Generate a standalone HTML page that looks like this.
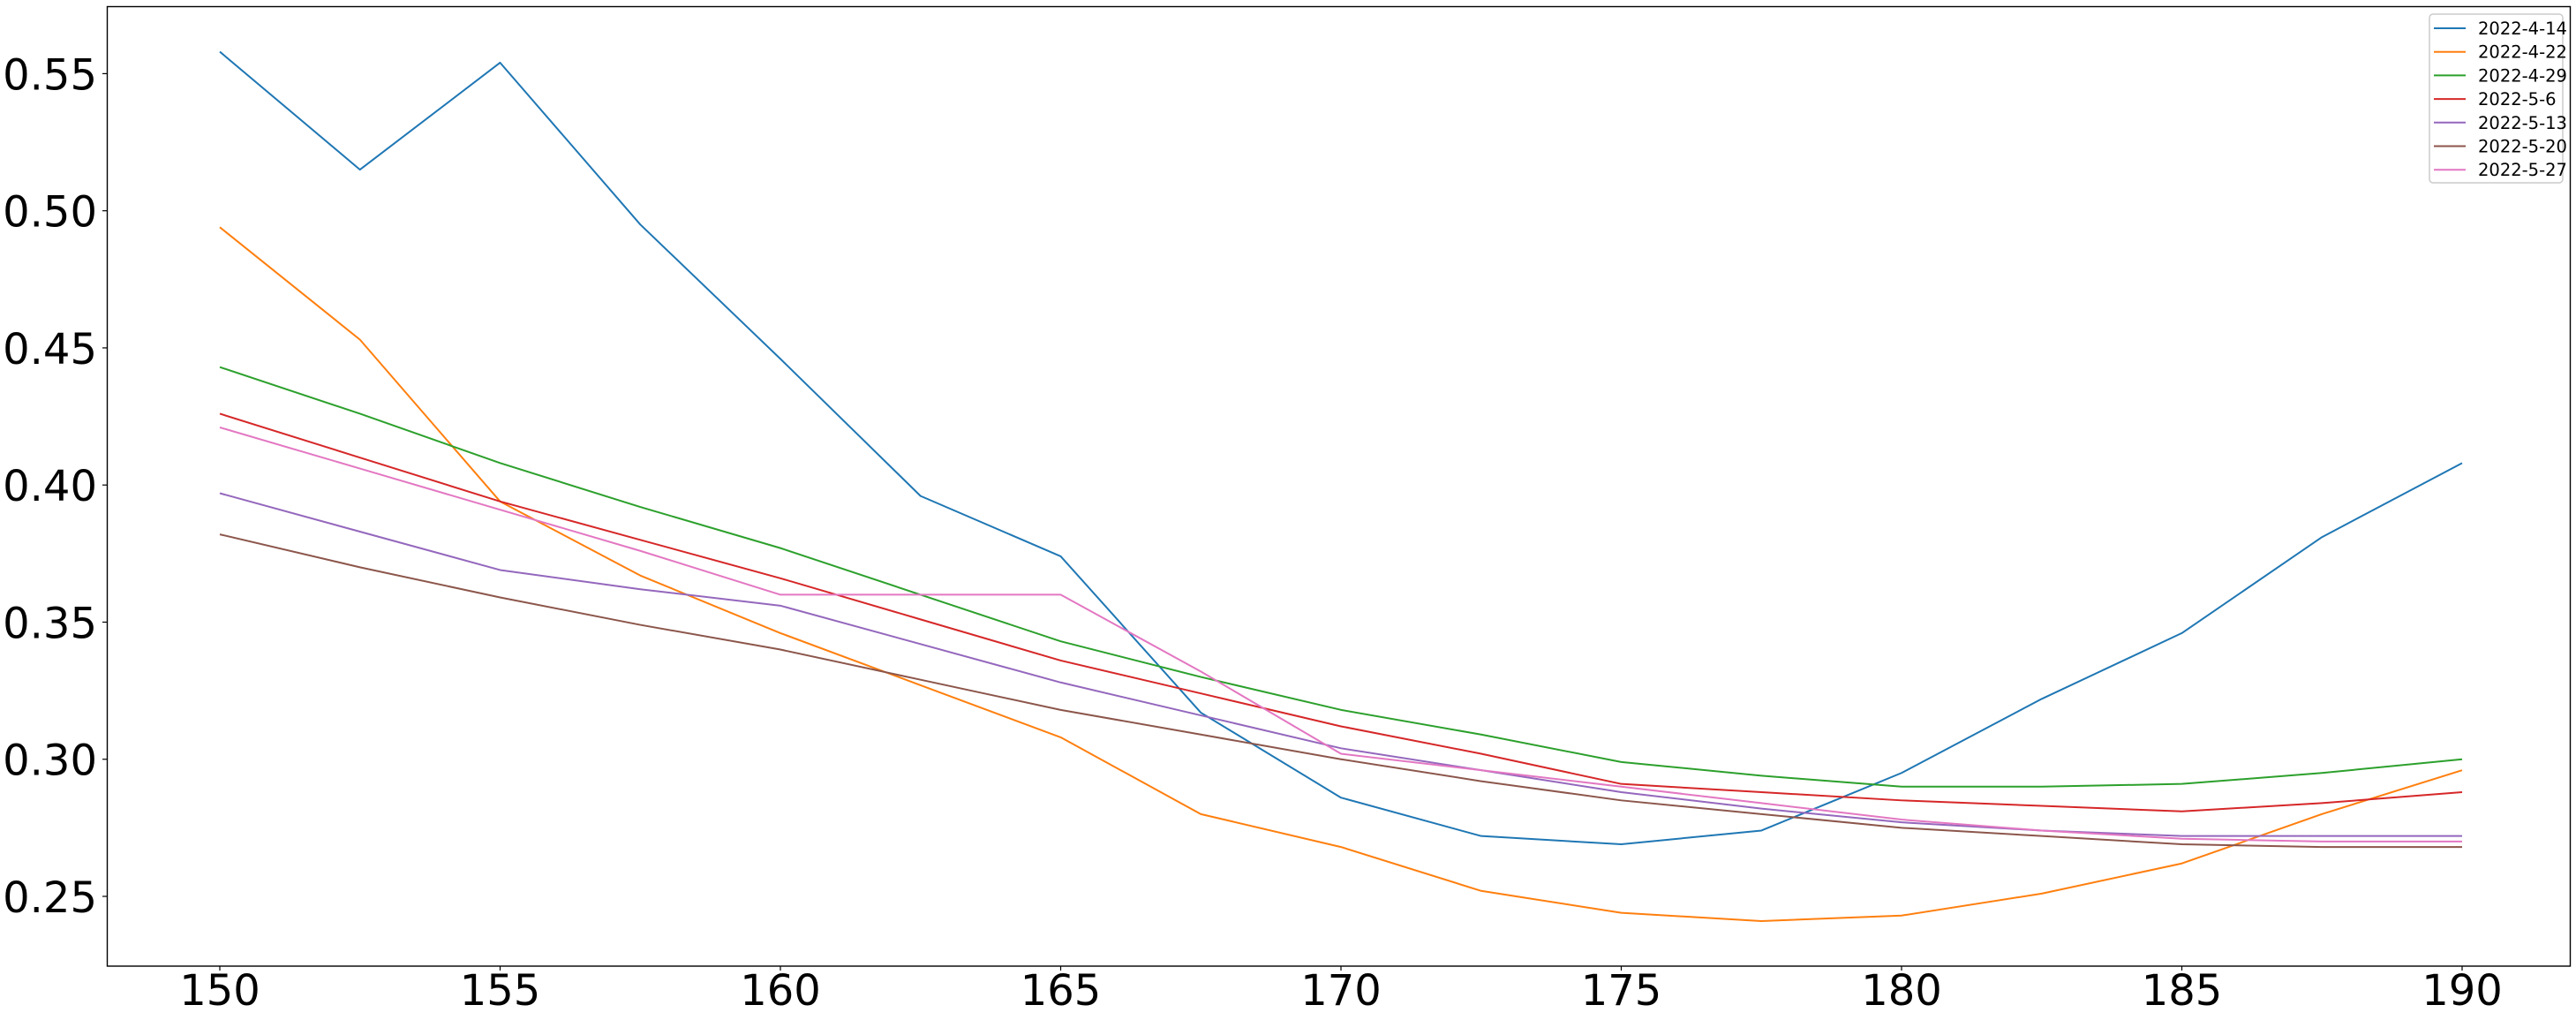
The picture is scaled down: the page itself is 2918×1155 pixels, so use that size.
<!DOCTYPE html>
<html><head><meta charset="utf-8"><style>
html,body{margin:0;padding:0;background:#fff;}
svg{display:block;font-family:"DejaVu Sans","Liberation Sans",sans-serif;}
</style></head><body>
<svg id="chart" width="2918" height="1155" viewBox="0 0 2918 1155" xmlns="http://www.w3.org/2000/svg">
<rect width="2918" height="1155" fill="#fff"/>
<g id="series"></g>
<rect x="121.5" y="7.5" width="2790" height="1086.5" fill="none" stroke="#000" stroke-width="1.4"/>
<g id="xticks"></g><g id="yticks"></g><g id="legend"></g>
</svg>
<script>
const xs=[150,152.5,155,157.5,160,162.5,165,167.5,170,172.5,175,177.5,180,182.5,185,187.5,190];
const seriesNames=["2022-4-14","2022-4-22","2022-4-29","2022-5-6","2022-5-13","2022-5-20","2022-5-27"];
const s1=[0.558,0.515,0.554,0.495,0.446,0.396,0.374,0.317,0.286,0.272,0.269,0.274,0.295,0.322,0.346,0.381,0.408];
const s2=[0.494,0.453,0.394,0.367,0.346,0.327,0.308,0.280,0.268,0.252,0.244,0.241,0.243,0.251,0.262,0.280,0.296];
const s3=[0.443,0.426,0.408,0.392,0.377,0.360,0.343,0.330,0.318,0.309,0.299,0.294,0.290,0.290,0.291,0.295,0.300];
const s4=[0.426,0.410,0.394,0.380,0.366,0.351,0.336,0.324,0.312,0.302,0.291,0.288,0.285,0.283,0.281,0.284,0.288];
const s5=[0.397,0.383,0.369,0.362,0.356,0.342,0.328,0.316,0.304,0.296,0.288,0.282,0.277,0.274,0.272,0.272,0.272];
const s6=[0.382,0.370,0.359,0.349,0.340,0.329,0.318,0.309,0.300,0.292,0.285,0.280,0.275,0.272,0.269,0.268,0.268];
const s7=[0.421,0.406,0.391,0.376,0.360,0.360,0.360,0.332,0.302,0.296,0.290,0.284,0.278,0.274,0.271,0.270,0.270];
const xTicks=[150,155,160,165,170,175,180,185,190];
const yTicks=[0.25,0.30,0.35,0.40,0.45,0.50,0.55];
const colors=["#1f77b4","#ff7f0e","#2ca02c","#d62728","#9467bd","#8c564b","#e377c2"];
const allSeries=[s1,s2,s3,s4,s5,s6,s7];
const NS="http://www.w3.org/2000/svg";
function X(v){return 249+(v-150)*(2789-249)/40;}
function Y(v){return 1015-(v-0.25)*(1015-83.4)/0.30;}
function mk(t,a){const e=document.createElementNS(NS,t);for(const k in a)e.setAttribute(k,a[k]);return e;}
const gS=document.getElementById('series');
allSeries.forEach((s,i)=>{
 const p=mk('polyline',{points:s.map((v,j)=>X(xs[j])+','+Y(v)).join(' '),fill:'none',stroke:colors[i],'stroke-width':2,'stroke-linejoin':'round'});
 
 
 gS.appendChild(p);
});
const gX=document.getElementById('xticks');
xTicks.forEach(v=>{
 const l=mk('line',{x1:X(v),x2:X(v),y1:1094,y2:1099,stroke:'#000','stroke-width':1.2});
 
 
 gX.appendChild(l);
 const t=mk('text',{x:X(v),y:1138,'text-anchor':'middle','font-size':48});
 t.textContent=String(v);
 
 
 gX.appendChild(t);
});
const gY=document.getElementById('yticks');
yTicks.forEach(v=>{
 const l=mk('line',{x1:116,x2:121,y1:Y(v),y2:Y(v),stroke:'#000','stroke-width':1.2});
 
 
 gY.appendChild(l);
 const t=mk('text',{x:110,y:Y(v)+18,'text-anchor':'end','font-size':48});
 t.textContent=v.toFixed(2);
 
 
 gY.appendChild(t);
});
const gL=document.getElementById('legend');
const box=mk('rect',{x:2752,y:16,width:151,height:191,rx:4,fill:'#fff','fill-opacity':0.8,stroke:'#ccc','stroke-width':1.5});


gL.appendChild(box);
seriesNames.forEach((n,i)=>{
 const y=32+i*26.7;
 const l=mk('line',{x1:2757,x2:2793,y1:y,y2:y,stroke:colors[i],'stroke-width':2});
 
 
 gL.appendChild(l);
 const t=mk('text',{x:2807,y:y+7,'font-size':19.5});
 t.textContent=n;
 
 
 gL.appendChild(t);
});
</script>
</body></html>
